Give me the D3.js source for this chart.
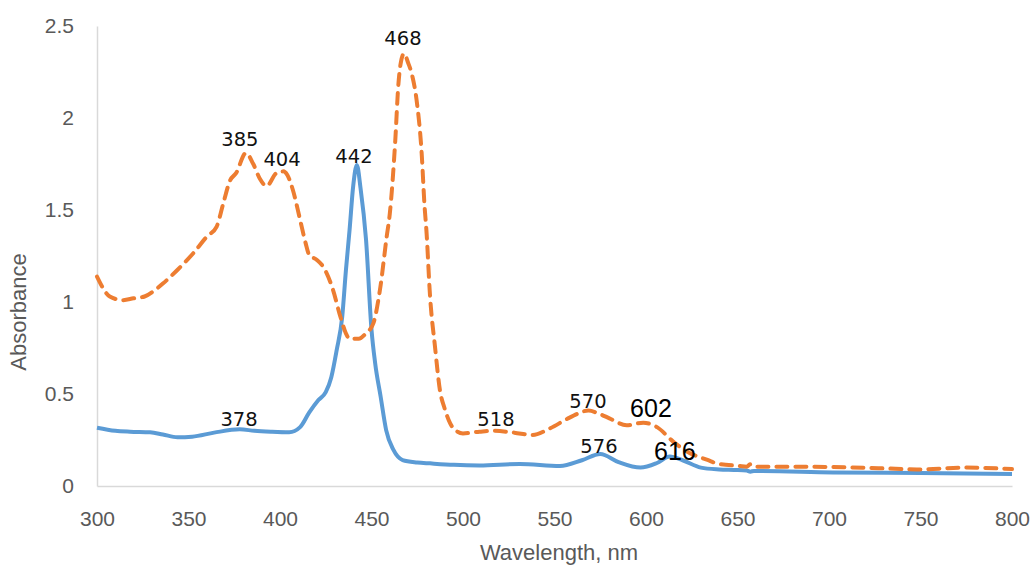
<!DOCTYPE html>
<html>
<head>
<meta charset="utf-8">
<script src="https://cdn.jsdelivr.net/npm/d3@7"></script>
<style>
  body { margin: 0; background: #fff; }
  .axis text { font-family: "Liberation Sans", Arial, sans-serif; font-size: 21px; fill: #595959; }
  .axis path { stroke: #d9d9d9; stroke-width: 1.5; }
  .title { font-family: "Liberation Sans", Arial, sans-serif; font-size: 21px; fill: #595959; }
</style>
</head>
<body>
<div id="chart"></div>
<script>
// solid blue spectrum
const blueWl = [300, 310, 318, 329, 336, 344, 352, 364, 378, 386, 395, 405, 411, 416, 421, 425, 428, 431, 434, 436, 438, 440, 442, 444, 447, 450, 452, 455, 458, 462, 467, 475, 482, 495, 509, 531, 553, 565, 575, 585, 597, 606, 613, 620, 630, 640, 648, 655, 657, 659, 702, 750, 800];
const blueAbs = [0.317, 0.30, 0.295, 0.292, 0.28, 0.265, 0.268, 0.29, 0.308, 0.30, 0.295, 0.292, 0.32, 0.40, 0.467, 0.51, 0.59, 0.74, 0.92, 1.17, 1.39, 1.63, 1.745, 1.62, 1.34, 0.85, 0.667, 0.485, 0.304, 0.196, 0.141, 0.128, 0.123, 0.115, 0.112, 0.12, 0.109, 0.14, 0.174, 0.13, 0.10, 0.125, 0.16, 0.14, 0.10, 0.09, 0.087, 0.084, 0.078, 0.082, 0.074, 0.07, 0.065];

// dashed orange spectrum
const orangeWl = [300, 307, 314, 320, 326, 331, 336, 343.5, 352.6, 360, 365.4, 369, 372.7, 376, 381.4, 385.4, 389, 392.7, 398, 401.8, 404, 407, 411, 414, 416, 420, 423.7, 429, 433, 436, 438, 443, 447, 451, 454.6, 458.3, 460, 463, 464.6, 466, 467.8, 470, 472, 474.6, 477.4, 479, 480, 482, 484.7, 487.4, 490, 493, 497, 500, 509, 516.5, 528, 538, 547.5, 558, 568.5, 575, 580, 589.4, 598.5, 606, 615, 624, 630, 634, 638.6, 651, 655, 657, 659, 684, 729.5, 748, 775, 800];
const orangeAbs = [1.138, 1.03, 1.01, 1.02, 1.03, 1.06, 1.10, 1.17, 1.265, 1.355, 1.41, 1.536, 1.66, 1.70, 1.81, 1.75, 1.67, 1.63, 1.70, 1.71, 1.69, 1.61, 1.446, 1.32, 1.255, 1.23, 1.19, 1.065, 0.92, 0.83, 0.80, 0.80, 0.83, 0.884, 1.065, 1.355, 1.48, 1.88, 2.17, 2.30, 2.35, 2.30, 2.24, 2.10, 1.81, 1.52, 1.39, 1.03, 0.757, 0.52, 0.42, 0.34, 0.295, 0.286, 0.295, 0.30, 0.29, 0.277, 0.313, 0.37, 0.41, 0.39, 0.368, 0.33, 0.344, 0.32, 0.24, 0.178, 0.155, 0.14, 0.123, 0.109, 0.105, 0.118, 0.105, 0.105, 0.096, 0.09, 0.10, 0.092];

// peak annotations (text, anchor wavelength, anchor absorbance)
const smallLabels = ["385", "404", "442", "468", "378", "518", "570", "576"];
const smallWl = [378.1, 401.1, 440.4, 467.2, 377.6, 518.0, 568.3, 574.3];
const smallAbs = [1.848, 1.739, 1.755, 2.397, 0.326, 0.326, 0.424, 0.179];
const bigLabels = ["602", "616"];
const bigWl = [602.7, 615.8];
const bigAbs = [0.375, 0.141];

const xTicks = [300, 350, 400, 450, 500, 550, 600, 650, 700, 750, 800];
const yTicks = [0, 0.5, 1, 1.5, 2, 2.5];

const W = 1034, H = 567;

const svg = d3.select("#chart")
  .append("svg")
  .attr("width", W)
  .attr("height", H);

const x = d3.scaleLinear().domain([300, 800]).range([97, 1012]);
const y = d3.scaleLinear().domain([0, 2.5]).range([486, 26]);

svg.append("g")
  .attr("class", "axis")
  .attr("transform", "translate(0,486)")
  .call(d3.axisBottom(x).tickValues(xTicks).tickSize(0).tickPadding(25).tickFormat(d3.format("d")));

svg.append("g")
  .attr("class", "axis")
  .attr("transform", "translate(97,0)")
  .call(d3.axisLeft(y).tickValues(yTicks).tickSize(0).tickPadding(23).tickFormat(d => String(d)));

svg.append("text")
  .attr("class", "title")
  .attr("text-anchor", "middle")
  .attr("transform", "translate(26,312) rotate(-90)")
  .style("font-size", "22px")
  .text("Absorbance");

svg.append("text")
  .attr("class", "title")
  .attr("text-anchor", "middle")
  .attr("x", 559)
  .attr("y", 560)
  .style("font-size", "22px")
  .text("Wavelength, nm");

const line = d3.line()
  .x(d => x(d[0]))
  .y(d => y(d[1]))
  .curve(d3.curveMonotoneX);

svg.append("path")
  .attr("d", line(d3.zip(blueWl, blueAbs)))
  .attr("fill", "none")
  .attr("stroke", "#5b9bd5")
  .attr("stroke-width", 4)
  .attr("stroke-linejoin", "round");

svg.append("path")
  .attr("d", line(d3.zip(orangeWl, orangeAbs)))
  .attr("fill", "none")
  .attr("stroke", "#ed7d31")
  .attr("stroke-width", 4)
  .attr("stroke-dasharray", "11,8")
  .attr("stroke-linecap", "round");

svg.selectAll(".lbl-s")
  .data(smallLabels)
  .enter().append("text")
  .attr("class", "lbl-s")
  .attr("x", (d, i) => x(smallWl[i]))
  .attr("y", (d, i) => y(smallAbs[i]))
  .attr("text-anchor", "middle")
  .style("font-family", "'DejaVu Sans', Verdana, sans-serif")
  .style("font-size", "19.5px")
  .style("fill", "#111")
  .text(d => d);

svg.selectAll(".lbl-b")
  .data(bigLabels)
  .enter().append("text")
  .attr("class", "lbl-b")
  .attr("x", (d, i) => x(bigWl[i]))
  .attr("y", (d, i) => y(bigAbs[i]))
  .attr("text-anchor", "middle")
  .style("font-family", "'Liberation Sans', Arial, sans-serif")
  .style("font-size", "25px")
  .style("fill", "#000")
  .text(d => d);
</script>
</body>
</html>
